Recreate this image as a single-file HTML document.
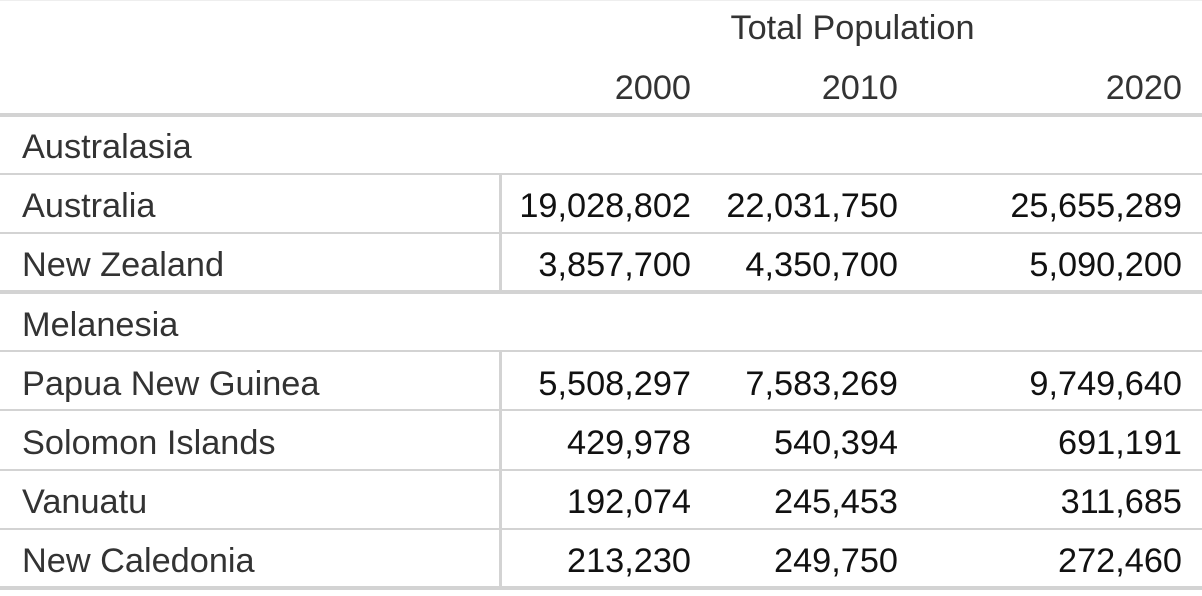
<!DOCTYPE html>
<html><head><meta charset="utf-8"><style>
body{margin:0;width:1202px;height:596px;background:#fff;position:relative;overflow:hidden;font-family:"Liberation Sans",Arial,sans-serif;font-size:34.3px;}
.h{position:absolute;left:0;width:1202px;background:#d3d3d3;}
.t{position:absolute;line-height:40px;height:40px;white-space:nowrap;color:#333;}
.n{position:absolute;line-height:40px;height:40px;text-align:right;width:300px;color:#111;}
</style></head><body>
<div class="h" style="top:0;height:1px;background:#eee"></div>
<div class="h" style="top:113px;height:4px"></div>
<div class="h" style="top:173px;height:2px"></div>
<div class="h" style="top:232px;height:2px"></div>
<div class="h" style="top:290px;height:4px"></div>
<div class="h" style="top:350px;height:2px"></div>
<div class="h" style="top:409px;height:2px"></div>
<div class="h" style="top:469px;height:2px"></div>
<div class="h" style="top:528px;height:2px"></div>
<div class="h" style="top:586px;height:4px"></div>
<div style="position:absolute;left:499px;top:173px;width:3px;height:118px;background:#d3d3d3"></div>
<div style="position:absolute;left:499px;top:351px;width:3px;height:237px;background:#d3d3d3"></div>
<div class="t" style="left:505px;width:695px;text-align:center;top:8px">Total Population</div>
<div class="n" style="left:391px;top:68px;color:#333">2000</div>
<div class="n" style="left:598px;top:68px;color:#333">2010</div>
<div class="n" style="left:882px;top:68px;color:#333">2020</div>
<div class="t" style="left:22px;top:127px">Australasia</div>
<div class="t" style="left:22px;top:186px">Australia</div>
<div class="t" style="left:22px;top:245px">New Zealand</div>
<div class="t" style="left:22px;top:305px">Melanesia</div>
<div class="t" style="left:22px;top:364px">Papua New Guinea</div>
<div class="t" style="left:22px;top:423px">Solomon Islands</div>
<div class="t" style="left:22px;top:482px">Vanuatu</div>
<div class="t" style="left:22px;top:541px">New Caledonia</div>
<div class="n" style="left:391px;top:186px">19,028,802</div><div class="n" style="left:598px;top:186px">22,031,750</div><div class="n" style="left:882px;top:186px">25,655,289</div>
<div class="n" style="left:391px;top:245px">3,857,700</div><div class="n" style="left:598px;top:245px">4,350,700</div><div class="n" style="left:882px;top:245px">5,090,200</div>
<div class="n" style="left:391px;top:364px">5,508,297</div><div class="n" style="left:598px;top:364px">7,583,269</div><div class="n" style="left:882px;top:364px">9,749,640</div>
<div class="n" style="left:391px;top:423px">429,978</div><div class="n" style="left:598px;top:423px">540,394</div><div class="n" style="left:882px;top:423px">691,191</div>
<div class="n" style="left:391px;top:482px">192,074</div><div class="n" style="left:598px;top:482px">245,453</div><div class="n" style="left:882px;top:482px">311,685</div>
<div class="n" style="left:391px;top:541px">213,230</div><div class="n" style="left:598px;top:541px">249,750</div><div class="n" style="left:882px;top:541px">272,460</div>
</body></html>
